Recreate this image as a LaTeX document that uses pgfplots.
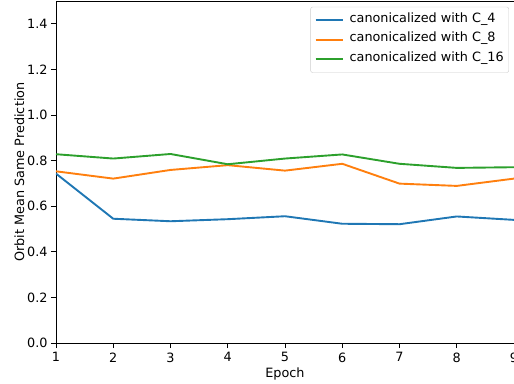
\documentclass[border=0pt]{standalone}
\usepackage{fontspec}
\setmainfont{DejaVu Sans}
\usepackage{pgfplots}
\pgfplotsset{compat=1.18}

\definecolor{mplblue}{HTML}{1F77B4}
\definecolor{mplorange}{HTML}{FF7F0E}
\definecolor{mplgreen}{HTML}{2CA02C}
\newcommand{\mplfont}{\fontsize{12.8}{15}\selectfont}

\begin{document}
\begin{tikzpicture}
\begin{axis}[
  name=ax,
  scale only axis,
  width=458pt, height=342pt,
  xmin=1, xmax=9, ymin=0, ymax=1.5,
  xtick={1,...,9},
  ytick={0,0.2,...,1.41},
  yticklabel style={/pgf/number format/.cd, fixed, fixed zerofill, precision=1},
  /pgf/number format/assume math mode=true,
  tick align=outside,
  tick pos=left,
  major tick length=5pt,
  tick style={black, line width=0.8pt},
  axis line style={black, line width=0.8pt},
  ticklabel style={font=\mplfont},
  xticklabel style={yshift=-1pt},
  xlabel={Epoch},
  ylabel={Orbit Mean Same Prediction},
  label style={font=\mplfont},
  xlabel style={yshift=1pt},
  ylabel style={yshift=-4pt},
  legend style={font=\mplfont, draw=black!20, rounded corners=2pt,
    at={(0.989,0.983)}, anchor=north east,
    inner xsep=4pt, inner ysep=3.5pt,
    nodes={inner sep=1pt, text height=10.5pt, text depth=7pt}},
  legend cell align=left,
  legend image code/.code={\draw[#1, line width=2pt] (0pt,0pt) -- (27pt,0pt);},
  every axis plot/.append style={line width=1.9pt},
]
\addplot[draw=mplblue] coordinates {
  (1,0.743) (2,0.545) (3,0.534) (4,0.543) (5,0.556) (6,0.523) (7,0.521) (8,0.555) (9,0.540)
};
\addlegendentry{\hspace{5pt}canonicalized with C\_4}
\addplot[draw=mplorange] coordinates {
  (1,0.753) (2,0.721) (3,0.759) (4,0.780) (5,0.756) (6,0.786) (7,0.699) (8,0.689) (9,0.721)
};
\addlegendentry{\hspace{5pt}canonicalized with C\_8}
\addplot[draw=mplgreen] coordinates {
  (1,0.828) (2,0.809) (3,0.829) (4,0.784) (5,0.809) (6,0.827) (7,0.786) (8,0.768) (9,0.771)
};
\addlegendentry{\hspace{5pt}canonicalized with C\_16}
\end{axis}
\pgfresetboundingbox
\path[use as bounding box] (ax.south west) ++(-56pt,-40pt) rectangle ([yshift=1pt]ax.north east);
\end{tikzpicture}
\end{document}
